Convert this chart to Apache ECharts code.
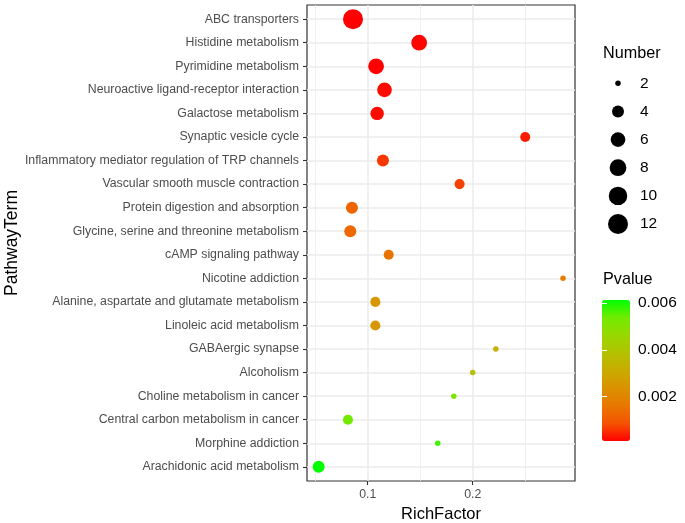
<!DOCTYPE html>
<html>
<head>
<meta charset="utf-8">
<script src="https://cdn.jsdelivr.net/npm/echarts@6/dist/echarts.min.js"></script>
<style>
  html, body { margin: 0; padding: 0; background: #fff; }
  #chart { width: 685px; height: 523px; }
</style>
</head>
<body>
<div id="chart"></div>
<script>
// pathway enrichment data (top row first)
const terms = [
  'ABC transporters',
  'Histidine metabolism',
  'Pyrimidine metabolism',
  'Neuroactive ligand-receptor interaction',
  'Galactose metabolism',
  'Synaptic vesicle cycle',
  'Inflammatory mediator regulation of TRP channels',
  'Vascular smooth muscle contraction',
  'Protein digestion and absorption',
  'Glycine, serine and threonine metabolism',
  'cAMP signaling pathway',
  'Nicotine addiction',
  'Alanine, aspartate and glutamate metabolism',
  'Linoleic acid metabolism',
  'GABAergic synapse',
  'Alcoholism',
  'Choline metabolism in cancer',
  'Central carbon metabolism in cancer',
  'Morphine addiction',
  'Arachidonic acid metabolism'
];
const richFactor = [0.086, 0.149, 0.108, 0.116, 0.109, 0.250, 0.1145, 0.1875, 0.085, 0.0834,
                    0.120, 0.286, 0.1073, 0.1073, 0.222, 0.200, 0.182, 0.0812, 0.1667, 0.0533];
const geneNumber = [12, 7, 7, 6, 5, 3, 4, 3, 4, 4, 3, 2, 3, 3, 2, 2, 2, 3, 2, 4];
const pValue = [0.0001, 0.00015, 0.0001, 0.0002, 0.0002, 0.00035, 0.0006, 0.0007, 0.0012, 0.0013,
                0.0015, 0.0018, 0.0025, 0.0025, 0.0032, 0.0038, 0.0051, 0.0053, 0.0057, 0.00613];

const sizeBreaks = [2, 4, 6, 8, 10, 12];
const pTicks = [0.002, 0.004, 0.006];
const xTicks = [0.1, 0.2];

// red -> green gradient (Lab-like stops)
const ramp = ['#FF0000', '#F45300', '#E87700', '#DA9200', '#C9AB00', '#B3C200', '#98D700', '#70EB00', '#00FF00'];

const font = 'Liberation Sans, Arial, Helvetica, sans-serif';
const nMin = 2, nMax = 12;
const pMin = Math.min(...pValue), pMax = Math.max(...pValue);

// area scale like ggplot scale_size (range 1..6)
function dotSize(n) {
  const s = 1 + 5 * Math.sqrt((n - nMin) / (nMax - nMin));
  return 20 * (2.845 * s + 2.55) / (2.845 * 6 + 2.55);
}

const chart = echarts.init(document.getElementById('chart'));

const option = {
  animation: false,
  textStyle: { fontFamily: font },
  title: [
    { text: 'Number', left: 603, top: 46, padding: 0,
      textStyle: { fontSize: 16.2, fontWeight: 'normal', color: '#000', fontFamily: font } },
    { text: 'Pvalue', left: 603, top: 272, padding: 0,
      textStyle: { fontSize: 16.2, fontWeight: 'normal', color: '#000', fontFamily: font } }
  ],
  grid: [
    { left: 307, top: 5, width: 268, height: 476, show: true, outerBoundsMode: 'none',
      borderColor: '#333', borderWidth: 1.2, backgroundColor: '#fff' },
    { left: 602, top: 300, width: 28, height: 141, show: false, outerBoundsMode: 'none' },
    { left: 606, top: 69.2, width: 24, height: 168.9, show: false, outerBoundsMode: 'none' }
  ],
  xAxis: [
    {
      gridIndex: 0, type: 'value', min: 0.0422, max: 0.2974, splitNumber: 3,
      name: 'RichFactor', nameLocation: 'middle', nameGap: 25,
      nameTextStyle: { fontSize: 16.5, color: '#000', fontFamily: font },
      axisLine: { show: false, onZero: false },
      axisTick: { show: true, customValues: xTicks, length: 4, lineStyle: { color: '#333', width: 1.1 } },
      axisLabel: { customValues: xTicks, formatter: v => v.toFixed(1), color: '#4D4D4D',
                   fontSize: 12.3, margin: 8, fontFamily: font },
      splitLine: { show: true, lineStyle: { color: '#EBEBEB', width: 1.5 } },
      minorTick: { show: false, splitNumber: 2 },
      minorSplitLine: { show: true, lineStyle: { color: '#EBEBEB', width: 0.8 } }
    },
    { gridIndex: 1, type: 'value', show: false },
    { gridIndex: 2, type: 'value', min: 0, max: 1, show: false }
  ],
  yAxis: [
    {
      gridIndex: 0, type: 'value', min: -0.6, max: 19.6, splitNumber: 20, inverse: true,
      name: 'PathwayTerm', nameLocation: 'middle', nameGap: 286, nameRotate: 90,
      nameTextStyle: { fontSize: 17.5, color: '#000', fontFamily: font },
      axisLine: { show: false, onZero: false },
      axisTick: { show: true, customValues: terms.map((t, i) => i), length: 4,
                  lineStyle: { color: '#333', width: 1.1 } },
      axisLabel: { customValues: terms.map((t, i) => i), formatter: v => terms[v] || '',
                   color: '#4D4D4D', fontSize: 12.3, margin: 8, fontFamily: font },
      splitLine: { show: true, lineStyle: { color: '#EBEBEB', width: 1.5 } }
    },
    {
      gridIndex: 1, type: 'value', min: pMin, max: pMax, splitNumber: 3, position: 'right', z: 10,
      axisLine: { show: false },
      axisTick: { show: true, inside: true, customValues: pTicks, length: 5,
                  lineStyle: { color: '#fff', width: 1 } },
      axisLabel: { customValues: pTicks, formatter: v => v.toFixed(3), color: '#000',
                   fontSize: 15.5, margin: 8, fontFamily: font },
      splitLine: { show: false }
    },
    {
      gridIndex: 1, type: 'value', min: pMin, max: pMax, splitNumber: 3, position: 'left', z: 10,
      axisLine: { show: false },
      axisTick: { show: true, inside: true, customValues: pTicks, length: 5,
                  lineStyle: { color: '#fff', width: 1 } },
      axisLabel: { show: false },
      splitLine: { show: false }
    },
    {
      gridIndex: 2, type: 'category', data: sizeBreaks.map(String), inverse: true, position: 'right',
      axisLine: { show: false }, axisTick: { show: false },
      axisLabel: { color: '#000', fontSize: 15.5, margin: 10, fontFamily: font },
      splitLine: { show: false }
    }
  ],
  visualMap: {
    type: 'continuous', seriesIndex: 0, dimension: 3,
    min: pMin, max: pMax, calculable: false, padding: 0,
    left: 602, top: 300, itemWidth: 28, itemHeight: 141,
    inRange: { color: ramp }
  },
  series: [
    {
      type: 'scatter', xAxisIndex: 0, yAxisIndex: 0,
      data: terms.map((t, i) => [richFactor[i], i, geneNumber[i], pValue[i]]),
      symbolSize: v => dotSize(v[2]),
      itemStyle: { opacity: 1 }
    },
    {
      type: 'scatter', xAxisIndex: 2, yAxisIndex: 3,
      data: sizeBreaks.map((n, i) => [0.5, i, n]),
      symbolSize: v => dotSize(v[2]),
      itemStyle: { color: '#000', opacity: 1 }
    }
  ]
};

chart.setOption(option);
</script>
</body>
</html>
